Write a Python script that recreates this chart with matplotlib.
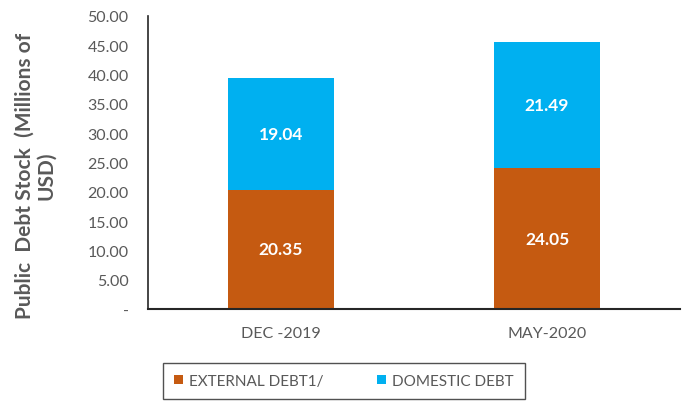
import matplotlib
matplotlib.use("Agg")
import matplotlib.pyplot as plt
import numpy as np

categories = ["DEC -2019", "MAY-2020"]
external_debt = [20.35, 24.05]
domestic_debt = [19.04, 21.49]
series_names = ["EXTERNAL DEBT1/", "DOMESTIC DEBT"]
yticks = [0, 5, 10, 15, 20, 25, 30, 35, 40, 45, 50]

plt.rcParams['font.family'] = ['Lato', 'DejaVu Sans']
gray = "#595959"
orange = "#C55A11"
blue = "#00B0F0"

fig = plt.figure(figsize=(6.94, 4.10), dpi=100)
ax = fig.add_axes([148/694, 1-310/410, (680-148)/694, (310-17)/410])

x = np.arange(len(categories))
w = 0.4
b1 = ax.bar(x, external_debt, w, color=orange, label=series_names[0])
b2 = ax.bar(x, domestic_debt, w, bottom=external_debt, color=blue, label=series_names[1])

for i in range(len(categories)):
    ax.text(x[i], external_debt[i]/2, f"{external_debt[i]:.2f}", ha="center", va="center",
            color="white", fontsize=12.5, fontweight="bold")
    ax.text(x[i], external_debt[i] + domestic_debt[i]/2, f"{domestic_debt[i]:.2f}", ha="center",
            va="center", color="white", fontsize=12.5, fontweight="bold")

ax.set_xlim(-0.5, 1.5)
ax.set_ylim(0, 50)
ax.set_yticks(yticks)
ax.set_yticklabels(["-" if v == 0 else f"{v:.2f}" for v in yticks])
ax.set_xticks(x)
ax.set_xticklabels(categories)
ax.tick_params(axis="both", length=0, colors=gray, labelsize=11.5)
ax.tick_params(axis="y", pad=14)
ax.tick_params(axis="x", pad=12)
for s in ["top", "right"]:
    ax.spines[s].set_visible(False)
ax.spines["left"].set_color("#262626")
ax.spines["bottom"].set_color("#262626")
ax.spines["left"].set_linewidth(1.2)
ax.spines["bottom"].set_linewidth(1.5)

fig.text(35/694, 1-176/410, "Public  Debt Stock  (Millions of\nUSD)", rotation=90,
         ha="center", va="center", fontsize=15, fontweight="bold", color=gray,
         multialignment="center", linespacing=1.1)

leg = fig.legend(handles=[b1, b2], loc="center", bbox_to_anchor=(344/694, 1-382/410),
                 ncol=2, frameon=True, fancybox=False, edgecolor="#262626",
                 fontsize=11, handlelength=0.6, handleheight=0.6, columnspacing=3.5,
                 borderpad=0.7, handletextpad=0.4, labelcolor=gray)
leg.get_frame().set_linewidth(1.0)

fig.savefig("out.png", dpi=100)
